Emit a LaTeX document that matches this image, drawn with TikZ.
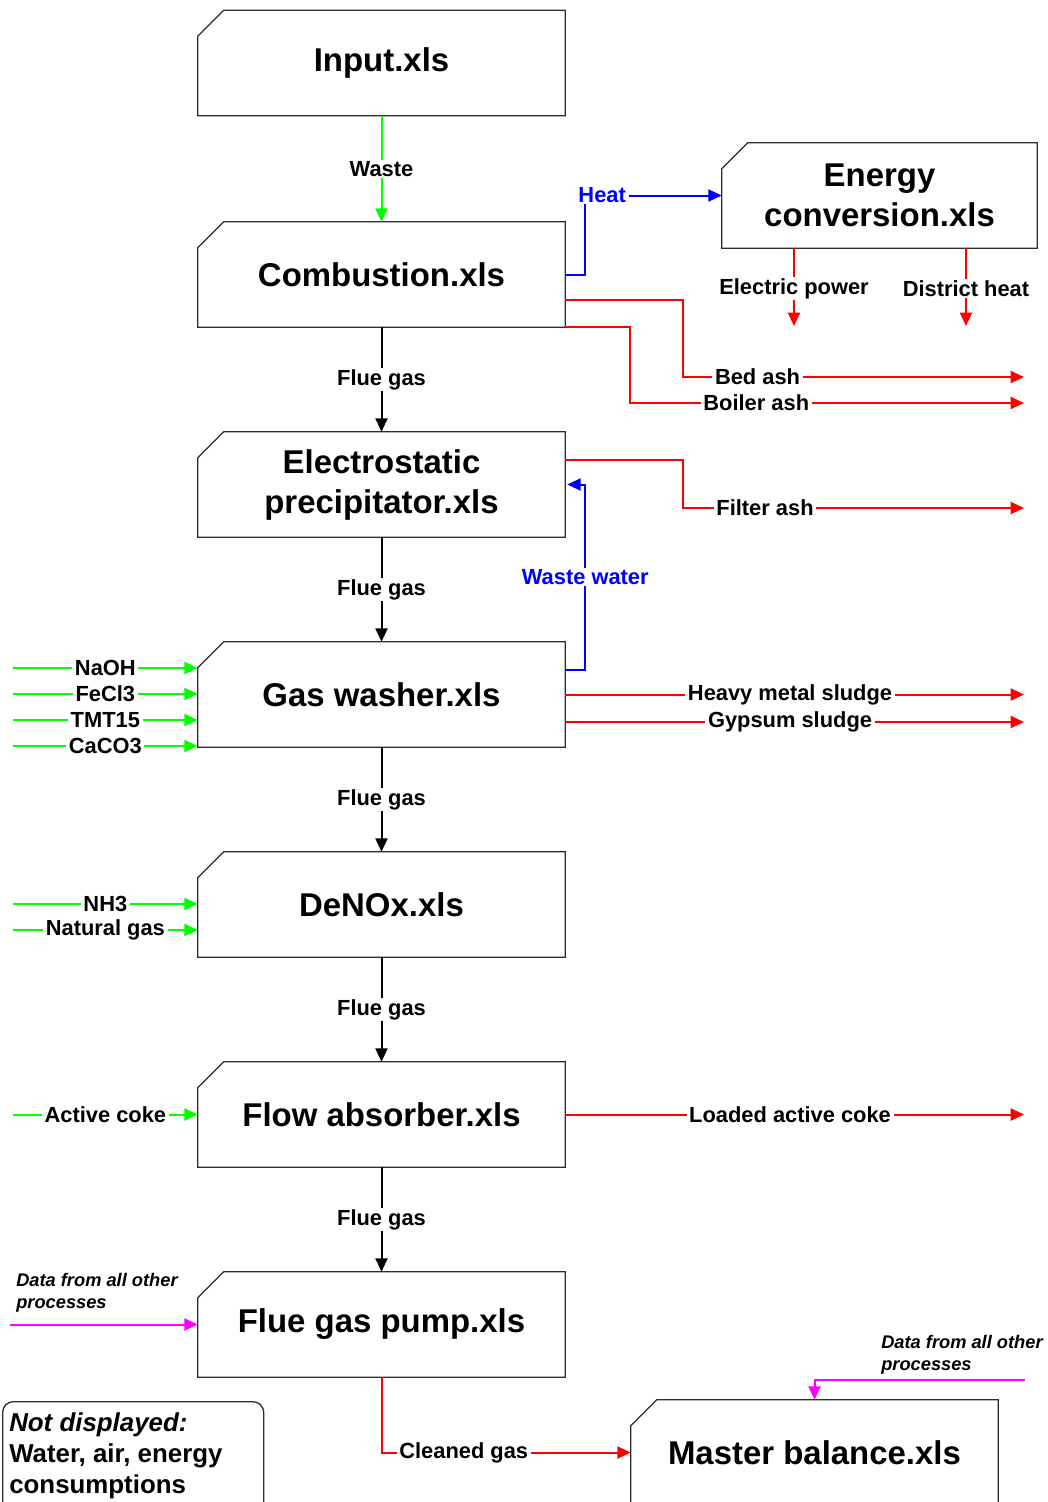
\documentclass[tikz,border=0pt]{standalone}
\usepackage{fontspec}
\setmainfont{Liberation Sans}
\usetikzlibrary{arrows.meta,calc}
\definecolor{flowgreen}{RGB}{0,255,0}
\definecolor{flowred}{RGB}{255,0,0}
\definecolor{flowblue}{RGB}{0,0,255}
\definecolor{flowmag}{RGB}{255,0,255}
\definecolor{edgegray}{RGB}{45,45,45}

\begin{document}
\begin{tikzpicture}[x=0.75pt,y=-0.75pt,
  xls/.style={rectangle, minimum width=275.25pt, minimum height=78.75pt, inner sep=0pt,
    align=center, font=\fontsize{24.7}{30}\selectfont\bfseries},
  outline/.style={draw=edgegray, line width=1pt},
  lbl/.style={fill=white, inner xsep=2pt, inner ysep=1pt, text=black,
    font=\fontsize{16.4}{19}\selectfont\bfseries},
  flow/.style={line width=1.5pt, -{Triangle[length=10pt,width=9pt]}},
  datanote/.style={anchor=north west, inner sep=0pt, align=left,
    font=\fontsize{13.7}{16.5}\selectfont\bfseries\itshape},
]
\fill[white] (0,0) rectangle (1048,1502);
\useasboundingbox (0,0) rectangle (1048,1502);

% process blocks
\node[xls] (inp)   at (381.5,63)     {Input.xls};
\node[xls] (comb)  at (381.5,274.5)  {Combustion.xls};
\node[xls] (esp)   at (381.5,484.5)  {Electrostatic\\precipitator.xls};
\node[xls] (wash)  at (381.5,694.5)  {Gas washer.xls};
\node[xls] (denox) at (381.5,904.5)  {DeNOx.xls};
\node[xls] (flow)  at (381.5,1114.5) {Flow absorber.xls};
\node[xls] (pump)  at (381.5,1324.5) {Flue gas pump.xls};
\node[xls, minimum width=236.25pt] (energy) at (879.5,195.5) {Energy\\conversion.xls};
\node[xls] (master) at (814.5,1452.5) {Master balance.xls};

% block outlines with a cut top-left corner
\foreach \n in {inp,comb,esp,wash,denox,flow,pump,energy,master}
  \draw[outline] ([yshift=-19.5pt]\n.north west) -- ([xshift=19.5pt]\n.north west)
    -- (\n.north east) -- (\n.south east) -- (\n.south west) -- cycle;

% free ends of the connectors
\coordinate (epEnd)   at (794,326);
\coordinate (dhEnd)   at (966,326);
\coordinate (bedEnd)  at (1024,377);
\coordinate (boilEnd) at (1024,403);
\coordinate (filtEnd) at (1024,508);
\coordinate (hmsEnd)  at (1024,694.5);
\coordinate (gypEnd)  at (1024,722);
\coordinate (lacEnd)  at (1024,1114.5);
\coordinate (naoh)    at (13,668);
\coordinate (fecl)    at (13,694);
\coordinate (tmt)     at (13,720);
\coordinate (caco)    at (13,746);
\coordinate (nh)      at (13,904);
\coordinate (ngas)    at (13,930);
\coordinate (acoke)   at (13,1114.5);
\coordinate (dataL)   at (10,1324.5);
\coordinate (dataR)   at (1025,1380);

% main gas path
\draw[flow, flowgreen] (inp) -- node[lbl]{Waste} (comb);
\foreach \a/\b in {comb/esp, esp/wash, wash/denox, denox/flow, flow/pump}
  \draw[flow, black] (\a) -- node[lbl]{Flue gas} (\b);
\draw[flow, flowred] (pump.south) |- node[lbl, pos=0.665]{Cleaned gas} (master.west);

% energy
\draw[flow, flowblue] (comb.east) -- ++(20,0) |- node[lbl, text=flowblue, pos=0.562]{Heat} (energy.west);
\draw[flow, flowred] (energy.south west -| epEnd) -- node[lbl, pos=0.52]{Electric power} (epEnd);
\draw[flow, flowred] (energy.south west -| dhEnd) -- node[lbl, pos=0.52]{District heat} (dhEnd);

% residues
\draw[flow, flowred] ($(comb.east)+(0,25.5)$) -- ++(118,0) |- node[lbl, pos=0.609]{Bed ash} (bedEnd);
\draw[flow, flowred] (comb.south east) -- ++(65,0) |- node[lbl, pos=0.66]{Boiler ash} (boilEnd);
\draw[flow, flowred] ($(esp.east)+(0,-24.5)$) -- ++(118,0) |- node[lbl, pos=0.62]{Filter ash} (filtEnd);
\draw[flow, flowblue] ($(wash.east)+(0,-24.5)$) -- ++(20,0) |- node[lbl, text=flowblue, pos=0.25]{Waste water} ($(esp.east)+(2,0)$);
\draw[flow, flowred] (wash.east) -- node[lbl, pos=0.49]{Heavy metal sludge} (hmsEnd);
\draw[flow, flowred] ($(wash.east)+(0,27.5)$) -- node[lbl, pos=0.49]{Gypsum sludge} (gypEnd);
\draw[flow, flowred] (flow.east) -- node[lbl, pos=0.49]{Loaded active coke} (lacEnd);

% chemicals
\draw[flow, flowgreen] (naoh) -- node[lbl]{NaOH} (wash.west |- naoh);
\draw[flow, flowgreen] (fecl) -- node[lbl]{FeCl3} (wash.west |- fecl);
\draw[flow, flowgreen] (tmt) -- node[lbl]{TMT15} (wash.west |- tmt);
\draw[flow, flowgreen] (caco) -- node[lbl]{CaCO3} (wash.west |- caco);
\draw[flow, flowgreen] (nh) -- node[lbl]{NH3} (denox.west |- nh);
\draw[flow, flowgreen] (ngas) -- node[lbl]{Natural gas} (denox.west |- ngas);
\draw[flow, flowgreen] (acoke) -- node[lbl]{Active coke} (flow.west);

% data links
\draw[flow, flowmag] (dataL) -- (pump.west);
\node[datanote] (dataLtxt) at (16,1273) {Data from all other\\processes};
\draw[flow, flowmag] (dataR) -| (master.north);
\node[datanote] (dataRtxt) at (881,1335) {Data from all other\\processes};

% note
\node[draw=edgegray, line width=1pt, rounded corners=8pt, anchor=north west,
      minimum width=195.75pt, minimum height=100pt, inner sep=0pt] (note) at (2,1401) {};
\node[anchor=north west, inner sep=0pt, align=left,
      font=\fontsize{19.4}{23.6}\selectfont\bfseries] (notetxt) at (9,1412)
      {\textit{Not displayed:}\\Water, air, energy\\consumptions};
\end{tikzpicture}
\end{document}
